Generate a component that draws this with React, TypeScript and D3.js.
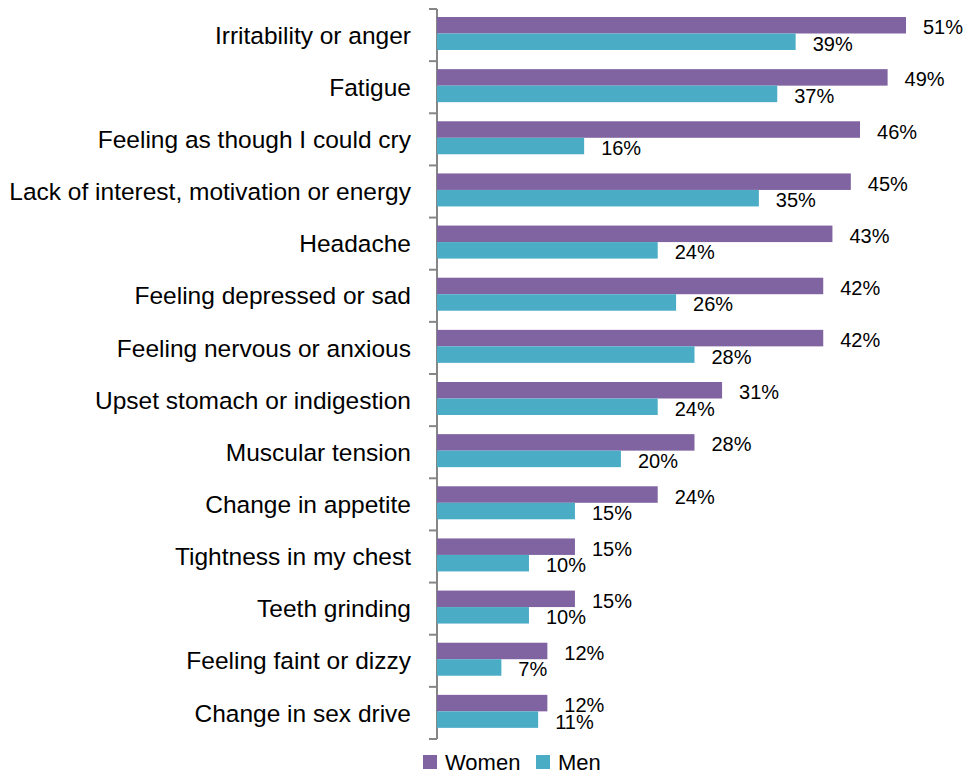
import React, { useEffect, useRef } from 'react';
import * as d3 from 'd3';

const categories = [
  'Irritability or anger',
  'Fatigue',
  'Feeling as though I could cry',
  'Lack of interest, motivation or energy',
  'Headache',
  'Feeling depressed or sad',
  'Feeling nervous or anxious',
  'Upset stomach or indigestion',
  'Muscular tension',
  'Change in appetite',
  'Tightness in my chest',
  'Teeth grinding',
  'Feeling faint or dizzy',
  'Change in sex drive',
];
const women = [51, 49, 46, 45, 43, 42, 42, 31, 28, 24, 15, 15, 12, 12];
const men = [39, 37, 16, 35, 24, 26, 28, 24, 20, 15, 10, 10, 7, 11];
const seriesNames = ['Women', 'Men'];
const colors = ['#8064A2', '#4BACC6'];

const FONT = '"Liberation Sans", Arial, sans-serif';

const App = () => {
  const ref = useRef<SVGSVGElement>(null);

  useEffect(() => {
    const svg = d3.select(ref.current);
    svg.selectAll('*').remove();

    const x = d3.scaleLinear().domain([0, 51]).range([437, 906]);
    const y = d3.scaleBand<string>().domain(categories).range([9, 739]);
    const barH = 16.5;
    const offset = 8;

    // axis
    svg.append('line')
      .attr('x1', 437).attr('x2', 437)
      .attr('y1', 9).attr('y2', 739)
      .attr('stroke', '#868686').attr('stroke-width', 2);
    const ticks = categories.map((c) => y(c) as number).concat([739]);
    svg.selectAll('.tick')
      .data(ticks)
      .enter()
      .append('line')
      .attr('x1', 429).attr('x2', 437)
      .attr('y1', (d) => d).attr('y2', (d) => d)
      .attr('stroke', '#868686').attr('stroke-width', 2);

    // category labels
    svg.selectAll('.cat')
      .data(categories)
      .enter()
      .append('text')
      .attr('x', 411)
      .attr('y', (d) => (y(d) as number) + y.bandwidth() / 2)
      .attr('dy', '0.35em')
      .attr('text-anchor', 'end')
      .attr('font-family', FONT)
      .attr('font-size', 24.5)
      .attr('fill', '#000')
      .text((d) => d);

    [women, men].forEach((vals, si) => {
      const g = svg.append('g');
      g.selectAll('rect')
        .data(vals)
        .enter()
        .append('rect')
        .attr('x', x(0))
        .attr('y', (d, i) => (y(categories[i]) as number) + offset + si * barH)
        .attr('width', (d) => x(d) - x(0))
        .attr('height', barH)
        .attr('fill', colors[si]);
      g.selectAll('text')
        .data(vals)
        .enter()
        .append('text')
        .attr('x', (d) => x(d) + 17)
        .attr('y', (d, i) => (y(categories[i]) as number) + offset + si * barH + barH / 2 + 2)
        .attr('dy', '0.35em')
        .attr('font-family', FONT)
        .attr('font-size', 20)
        .attr('fill', '#000')
        .text((d) => `${d}%`);
    });

    // legend
    const legend = svg.append('g');
    const lx = [423, 536];
    seriesNames.forEach((s, i) => {
      legend.append('rect')
        .attr('x', lx[i]).attr('y', 755)
        .attr('width', 14).attr('height', 14)
        .attr('fill', colors[i]);
      legend.append('text')
        .attr('x', lx[i] + 22).attr('y', 762)
        .attr('dy', '0.35em')
        .attr('font-family', FONT)
        .attr('font-size', 22)
        .attr('fill', '#000')
        .text(s);
    });
  }, []);

  return (
    <svg
      ref={ref}
      width={969}
      height={778}
      style={{ position: 'absolute', left: 0, top: 0, background: '#fff' }}
    />
  );
};

export default App;
